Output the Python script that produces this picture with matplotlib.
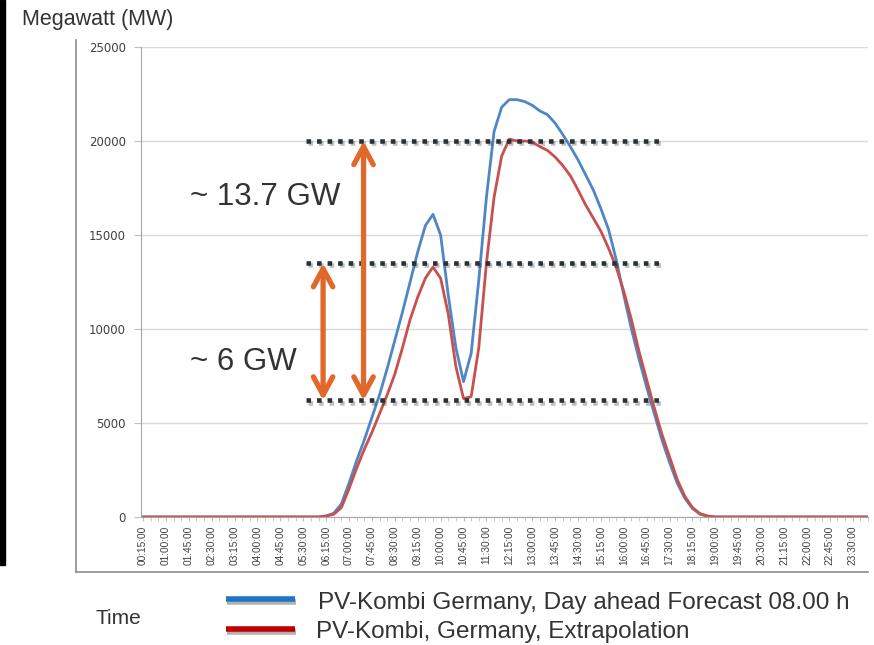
import matplotlib
matplotlib.use('Agg')
import matplotlib.pyplot as plt
import matplotlib.patheffects as pe
from matplotlib.lines import Line2D
from matplotlib.patches import Rectangle
import pandas as pd

plt.rcParams['font.family'] = ['Liberation Sans', 'DejaVu Sans']

# quarter-hour slots 00:15 ... 24:00
times = list(pd.date_range('2000-01-01 00:15', periods=96, freq='15min').strftime('%H:%M:%S'))

# PV-Kombi Germany, day ahead forecast 08.00 h (MW)
forecast = [0, 0, 0, 0, 0, 0, 0, 0, 0, 0, 0, 0,
            0, 0, 0, 0, 0, 0, 0, 0, 0, 0, 0, 0,
            50, 200, 700, 1800, 3000, 4100, 5300, 6500, 7900, 9400, 10900, 12500,
            14100, 15500, 16100, 15000, 11800, 9000, 7200, 8700, 12600, 17000, 20500, 21800,
            22200, 22200, 22100, 21900, 21600, 21400, 20950, 20350, 19700, 19000, 18200, 17400,
            16400, 15300, 13700, 11800, 10000, 8400, 6900, 5500, 4100, 2900, 1800, 1000,
            450, 150, 40, 0, 0, 0, 0, 0, 0, 0, 0, 0,
            0, 0, 0, 0, 0, 0, 0, 0, 0, 0, 0, 0]

# PV-Kombi Germany, extrapolation (MW)
extrapol = [0, 0, 0, 0, 0, 0, 0, 0, 0, 0, 0, 0,
            0, 0, 0, 0, 0, 0, 0, 0, 0, 0, 0, 0,
            50, 150, 500, 1500, 2600, 3600, 4500, 5500, 6500, 7600, 9000, 10500,
            11700, 12700, 13300, 12700, 10800, 8000, 6300, 6400, 9000, 13500, 17000, 19200,
            20100, 20000, 20000, 19950, 19700, 19500, 19150, 18700, 18150, 17400, 16600, 15900,
            15200, 14300, 13300, 12000, 10500, 8800, 7300, 5800, 4400, 3200, 2000, 1100,
            500, 180, 50, 0, 0, 0, 0, 0, 0, 0, 0, 0,
            0, 0, 0, 0, 0, 0, 0, 0, 0, 0, 0, 0]

levels = [20000, 13500, 6200]

W, H = 874, 645
fig = plt.figure(figsize=(W / 100, H / 100), dpi=100)
ax = fig.add_axes([141 / W, 1 - 517 / H, 727 / W, 470 / H])

x = range(len(times))
ax.plot(x, forecast, color='#4f86c6', lw=2, solid_joinstyle='round')
ax.plot(x, extrapol, color='#c8504d', lw=2, solid_joinstyle='round')

ax.set_xlim(-0.26, 94.15)
ax.set_ylim(0, 25000)

ax.set_yticks(range(0, 25001, 5000))
ax.set_yticklabels([str(v) for v in range(0, 25001, 5000)], family='DejaVu Sans')
ax.tick_params(axis='y', labelsize=8.5, labelcolor='#404040', color='#bfbfbf', length=5, pad=6)
ax.set_xticks(list(x)[::3])
ax.set_xticklabels(times[::3], rotation=90, fontsize=7.3, color='#404040')
ax.set_xticks(list(x), minor=True)
ax.tick_params(axis='x', which='both', color='#bfbfbf', length=3, pad=3)
ax.grid(axis='y', color='#d9d9d9', lw=1)
ax.set_axisbelow(True)
for s in ['top', 'right']:
    ax.spines[s].set_visible(False)
for s in ['left', 'bottom']:
    ax.spines[s].set_color('#a6a6a6')

# dotted level lines
shadow = [pe.SimpleLineShadow(offset=(1, -1.5), alpha=0.25), pe.Normal()]
for lv in levels:
    ax.hlines(lv, 21.4, 67.8, color='#283236', lw=3.3, linestyles=[(0, (1, 1.3))],
              path_effects=shadow, zorder=4)

# arrows
arr = dict(arrowstyle='<->,head_length=1.3,head_width=0.7', lw=3.8, color='#e2672a',
           shrinkA=0, shrinkB=0)
ax.annotate('', xy=(28.9, levels[0]), xytext=(28.9, levels[2]), arrowprops=arr, zorder=5)
ax.annotate('', xy=(23.6, levels[1]), xytext=(23.6, levels[2]), arrowprops=arr, zorder=5)

fig.text(190 / W, 1 - 197 / H, '~ 13.7 GW', fontsize=22.5, color='#333333', va='center')
fig.text(190 / W, 1 - 362 / H, '~ 6 GW', fontsize=22.5, color='#333333', va='center')

fig.text(22 / W, 1 - 20 / H, 'Megawatt (MW)', fontsize=15.5, color='#333333', va='center')
fig.text(95 / W, 1 - 618 / H, 'Time', fontsize=15, color='#333333', va='center')

# frame
fig.add_artist(Line2D([76 / W, 76 / W], [1 - 40 / H, 1 - 572 / H], color='#8c8c8c', lw=1.2))
fig.add_artist(Line2D([76 / W, 868 / W], [1 - 572 / H, 1 - 572 / H], color='#8c8c8c', lw=1.2))
fig.add_artist(Rectangle((0, 1 - 565 / H), 5 / W, 565 / H, color='black', transform=fig.transFigure))

# legend
lsh = [pe.SimpleLineShadow(offset=(1, -2), alpha=0.3), pe.Normal()]
fig.add_artist(Line2D([226 / W, 295 / W], [1 - 599 / H] * 2, color='#1f74c8', lw=4,
                      solid_capstyle='butt', path_effects=lsh))
fig.add_artist(Line2D([226 / W, 295 / W], [1 - 629 / H] * 2, color='#c00000', lw=4,
                      solid_capstyle='butt', path_effects=lsh))
fig.text(318 / W, 1 - 603 / H, 'PV-Kombi Germany, Day ahead Forecast 08.00 h',
         fontsize=17.5, color='#333333', va='center')
fig.text(316 / W, 1 - 632 / H, 'PV-Kombi, Germany, Extrapolation',
         fontsize=17.5, color='#333333', va='center')

fig.savefig('out.png', dpi=100)
